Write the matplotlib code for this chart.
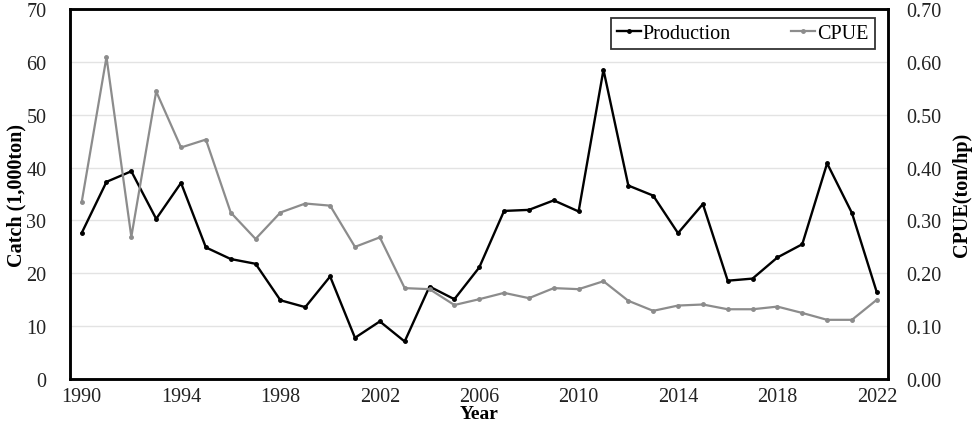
import numpy as np
import matplotlib
matplotlib.use("Agg")
import matplotlib.pyplot as plt

plt.rcParams["font.family"] = ["Liberation Serif", "DejaVu Serif"]

years = np.arange(1990, 2023)
production = [27.6, 37.3, 39.3, 30.3, 37.1, 24.9, 22.7, 21.8, 14.9, 13.6,
              19.4, 7.8, 10.9, 7.1, 17.5, 15.1, 21.1, 31.8, 32.0, 33.8,
              31.7, 58.5, 36.6, 34.7, 27.6, 33.1, 18.6, 19.0, 23.0, 25.5,
              40.8, 31.4, 16.4]
cpue = [0.334, 0.609, 0.269, 0.544, 0.438, 0.453, 0.315, 0.265, 0.315, 0.332,
        0.328, 0.250, 0.268, 0.172, 0.170, 0.140, 0.151, 0.163, 0.153, 0.172,
        0.170, 0.185, 0.148, 0.129, 0.139, 0.141, 0.132, 0.132, 0.137, 0.125,
        0.112, 0.112, 0.150]
x_ticks = [1990, 1994, 1998, 2002, 2006, 2010, 2014, 2018, 2022]

fig = plt.figure(figsize=(9.77, 4.27), dpi=100)
ax = fig.add_axes([0.0716, 0.110, 0.8373, 0.8666])
ax2 = ax.twinx()

ax.plot(years, production, color="black", lw=1.7, marker="o", ms=2.5,
        label="Production", zorder=3)
ax2.plot(years, cpue, color="#8c8c8c", lw=1.6, marker="o", ms=2.5,
         label="CPUE", zorder=3)

ax.set_xlim(1989.53, 2022.45)
ax.set_ylim(0, 70)
ax2.set_ylim(0, 0.70)
ax.set_yticks(np.arange(0, 71, 10))
ax2.set_yticks(np.arange(0, 0.71, 0.1))
ax2.set_yticklabels(["%.2f" % v for v in np.arange(0, 0.71, 0.1)])
ax.set_xticks(x_ticks)
ax.grid(axis="y", color="#e3e3e3", lw=1)
ax.set_axisbelow(True)

for a in (ax, ax2):
    a.tick_params(length=0, labelsize=14.5, colors="#222222")
    for s in a.spines.values():
        s.set_linewidth(1.8)
        s.set_color("black")
ax.tick_params(axis="y", pad=17)
ax.tick_params(axis="x", pad=6)
ax2.tick_params(axis="y", pad=13)

ax.set_xlabel("Year", fontsize=14, fontweight="bold", va="center")
ax.xaxis.set_label_coords(0.5, -0.092)
ax.set_ylabel("Catch (1,000ton)", fontsize=14.5, fontweight="bold", labelpad=0)
ax2.set_ylabel("CPUE(ton/hp)", fontsize=14.5, fontweight="bold", labelpad=8)

h1, l1 = ax.get_legend_handles_labels()
h2, l2 = ax2.get_legend_handles_labels()
leg = ax2.legend(h1 + h2, l1 + l2, ncol=2, loc="upper right",
                 bbox_to_anchor=(0.984, 0.976), borderaxespad=0,
                 fontsize=14.5, frameon=True, fancybox=False,
                 edgecolor="black", handlelength=1.2, handletextpad=0.1,
                 columnspacing=3.0, borderpad=0.3)
leg.get_frame().set_linewidth(1.3)

fig.savefig("out.png", dpi=100)
